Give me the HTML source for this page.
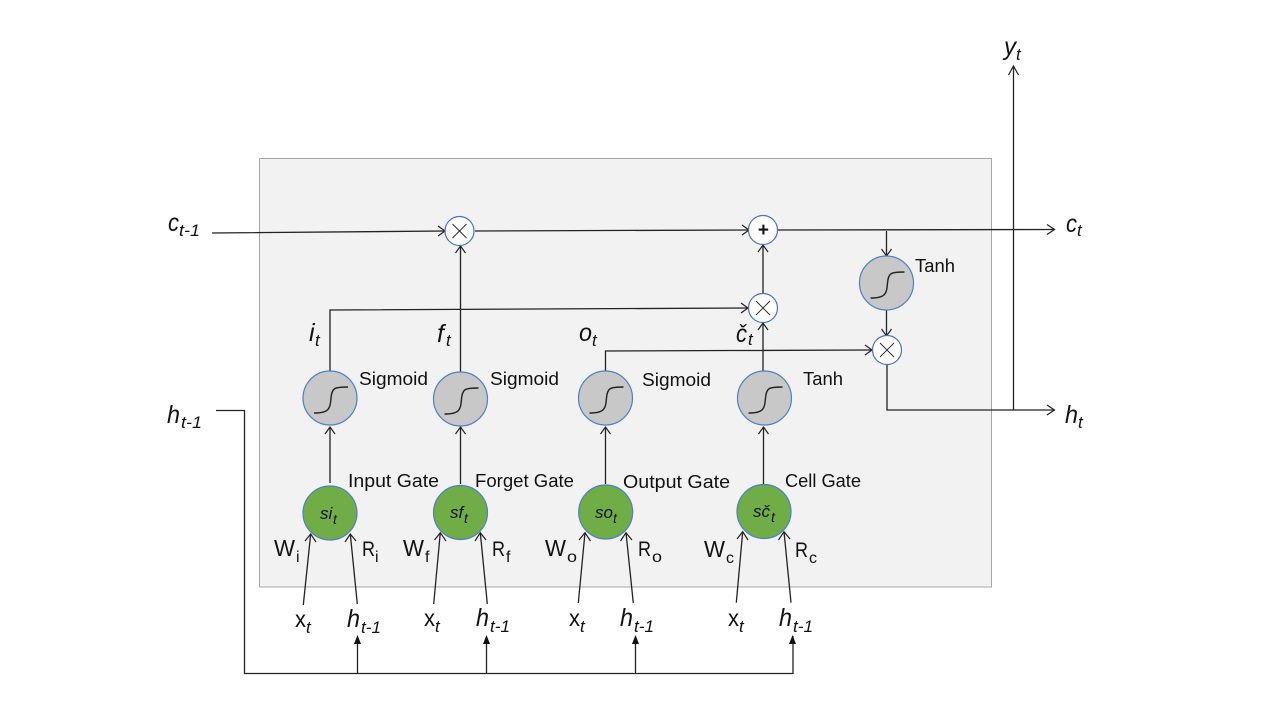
<!DOCTYPE html>
<html><head><meta charset="utf-8"><style>
html,body{margin:0;padding:0;background:#fff;width:1280px;height:720px;overflow:hidden}
svg{display:block}
text{font-family:"Liberation Sans",sans-serif;fill:#111}
.l{font-size:18px}
.m{font-size:25px;font-style:italic}
.s{font-size:17px;font-style:italic}
.n{font-size:23px}
.r{font-size:16px}
.g{font-size:17px;font-style:italic}
.gs{font-size:14px;font-style:italic}
.ln{fill:none;stroke:#222;stroke-width:1.3}
.ar{fill:none;stroke:#222;stroke-width:1.2}
.gray{fill:#c8c8c8;stroke:#4f7fc8;stroke-width:1.2}
.green{fill:#70ad47;stroke:#4f7fc8;stroke-width:1.2}
.w{fill:#fff;stroke:#4472c4;stroke-width:1.2}
.x{stroke:#222;stroke-width:.9}
.sc{fill:none;stroke:#222;stroke-width:1.4}
</style></head><body>
<svg width="1280" height="720" viewBox="0 0 1280 720" xmlns="http://www.w3.org/2000/svg">
<rect x="259.5" y="158.5" width="732" height="428.5" fill="#f2f2f2" stroke="#a6a6a6" stroke-width="1"/>

<!-- main lines -->
<path class="ln" d="M212 233L445 231M475 231L749 230M778 230L1054 229.5"/>
<path class="ln" d="M330 371V310L748 308M460.5 372V246M605.5 371V351L872 350M763 371V323M763 294V245"/>
<path class="ln" d="M886.5 231V256M886.5 310V336M887 365V410H1054M1013.5 410V66"/>
<path class="ln" d="M216 410.5H244.5V673.5H793V636M357.5 673.5V640M486.5 673.5V640M635.5 673.5V640"/>
<path class="ln" d="M330 483V427M460.5 484V427M605.5 484V427M763.5 484V427"/>

<!-- open arrowheads -->
<path class="ar" d="M438 226L445 231L438 236M742 225L749 230L742 235M1047 224.500L1054.500 229.500L1047 234.500"/>
<path class="ar" d="M741 303L748 308L741 313M865 345L872 350L865 355M1047 405L1054.500 410L1047 415"/>
<path class="ar" d="M455.500 253L460.500 246L465.500 253M758 252L763 245L768 252M758 330L763 323L768 330"/>
<path class="ar" d="M881.500 249L886.500 256L891.500 249M881.500 329L886.500 336L891.500 329M1008.500 75L1013.500 66L1018.500 75"/>
<path class="ar" d="M325 434L330 427L335 434M455.500 434L460.500 427L465.500 434M600.500 434L605.500 427L610.500 434M758.500 434L763.500 427L768.500 434"/>

<!-- inputs -->
<path class="ln" stroke-width="1" d="M303.300 605L310.700 534M357.300 604L350.300 534M433.700 604L440.300 532.700M487.300 604L480.300 532.700M578.300 603L585 532.700M633.300 603L626 532.700M736.300 602.700L742.700 531.700M791 602.700L784 531.700"/>
<path class="ar" d="M305 541L310.700 534L316 542M345 542L350.300 534L356 541M434.500 540L440.300 532.700L446 541M475 541L480.300 532.700L486 540M579 540L585 532.700L590.500 541M620.500 541L626 532.700L632 540M737 539L742.700 531.700L748 540M778.500 540L784 531.700L790 539"/>

<!-- filled arrowheads -->
<path fill="#111" d="M357.500 635L354 644H361ZM486.500 635L483 644H490ZM635.500 635L632 644H639ZM792.500 635L789 644H796Z"/>

<!-- gray circles -->
<g class="gray">
<circle cx="330" cy="398" r="27"/><circle cx="460.500" cy="399" r="27"/><circle cx="605.500" cy="398" r="27"/><circle cx="764.500" cy="398" r="27"/><circle cx="886.500" cy="283" r="27"/>
</g>
<g class="sc">
<path d="M314 413C330 413 330 408 331 398C332 388 334 387 348 387"/>
<path d="M444.500 414C460.500 414 460.500 409 461.500 399C462.500 389 464.500 388 478.500 388"/>
<path d="M589.500 413C605.500 413 605.500 408 606.500 398C607.500 388 609.500 387 623.500 387"/>
<path d="M748.500 413C764.500 413 764.500 408 765.500 398C766.500 388 768.500 387 782.500 387"/>
<path d="M870.500 298C886.500 298 886.500 293 887.500 283C888.500 273 890.500 272 904.500 272"/>
</g>

<!-- green circles -->
<g class="green">
<circle cx="330" cy="513" r="27"/><circle cx="460.500" cy="512.500" r="27"/><circle cx="605.700" cy="512" r="27"/><circle cx="764" cy="511.500" r="27"/>
</g>

<!-- op circles -->
<g class="w">
<circle cx="459.500" cy="231" r="14.500"/><circle cx="763" cy="230" r="14.500"/><circle cx="763" cy="308" r="14.500"/><circle cx="887" cy="350" r="14.500"/>
</g>
<path class="x" d="M452.500 224L466.500 238M466.500 224L452.500 238M756 301L770 315M770 301L756 315M880 343L894 357M894 343L880 357"/>
<text x="763" y="236" text-anchor="middle" style="font-size:19px;font-style:italic;font-weight:bold">+</text>

<!-- function labels -->
<text class="l" x="359" y="385" textLength="69" lengthAdjust="spacingAndGlyphs">Sigmoid</text>
<text class="l" x="490" y="385" textLength="69" lengthAdjust="spacingAndGlyphs">Sigmoid</text>
<text class="l" x="642" y="386" textLength="69" lengthAdjust="spacingAndGlyphs">Sigmoid</text>
<text class="l" x="803" y="385" textLength="40" lengthAdjust="spacingAndGlyphs">Tanh</text>
<text class="l" x="915" y="272" textLength="40" lengthAdjust="spacingAndGlyphs">Tanh</text>

<text class="l" x="348" y="487" textLength="91" lengthAdjust="spacingAndGlyphs">Input Gate</text>
<text class="l" x="475" y="487" textLength="99" lengthAdjust="spacingAndGlyphs">Forget Gate</text>
<text class="l" x="623" y="488" textLength="107" lengthAdjust="spacingAndGlyphs">Output Gate</text>
<text class="l" x="785" y="487" textLength="76" lengthAdjust="spacingAndGlyphs">Cell Gate</text>

<!-- green labels -->
<text class="g" x="320" y="519">si</text><text class="gs" x="333" y="524">t</text>
<text class="g" x="450" y="518">sf</text><text class="gs" x="464" y="523">t</text>
<text class="g" x="595" y="518">so</text><text class="gs" x="613" y="523">t</text>
<text class="g" x="753" y="517">sč</text><text class="gs" x="771" y="522">t</text>

<!-- state labels -->
<text class="m" x="168" y="231" textLength="11" lengthAdjust="spacingAndGlyphs">c</text><text class="s" x="179" y="236" textLength="21" lengthAdjust="spacingAndGlyphs">t-1</text>
<text class="m" x="167" y="423" textLength="13" lengthAdjust="spacingAndGlyphs">h</text><text class="s" x="181" y="428" textLength="21" lengthAdjust="spacingAndGlyphs">t-1</text>
<text class="m" x="309" y="341">i</text><text class="s" x="315" y="346">t</text>
<text class="m" x="437" y="342">f</text><text class="s" x="446" y="346">t</text>
<text class="m" x="579" y="341" textLength="13" lengthAdjust="spacingAndGlyphs">o</text><text class="s" x="592" y="346">t</text>
<text class="m" x="736" y="342" textLength="11" lengthAdjust="spacingAndGlyphs">č</text><text class="s" x="748" y="345">t</text>
<text class="m" x="1066" y="232" textLength="11" lengthAdjust="spacingAndGlyphs">c</text><text class="s" x="1077" y="236">t</text>
<text class="m" x="1065" y="423" textLength="13" lengthAdjust="spacingAndGlyphs">h</text><text class="s" x="1078" y="428">t</text>
<text class="m" x="1004" y="55" textLength="12" lengthAdjust="spacingAndGlyphs">y</text><text class="s" x="1016" y="60">t</text>

<!-- W / R labels -->
<text class="n" x="274" y="556" textLength="21" lengthAdjust="spacingAndGlyphs">W</text><text class="r" x="296" y="562">i</text>
<text class="n" x="362" y="556" style="font-size:21px" textLength="13" lengthAdjust="spacingAndGlyphs">R</text><text class="r" x="375" y="562">i</text>
<text class="n" x="403" y="556" textLength="21" lengthAdjust="spacingAndGlyphs">W</text><text class="r" x="425" y="562">f</text>
<text class="n" x="492" y="556" style="font-size:21px" textLength="13" lengthAdjust="spacingAndGlyphs">R</text><text class="r" x="506" y="562">f</text>
<text class="n" x="545" y="556" textLength="21" lengthAdjust="spacingAndGlyphs">W</text><text class="r" x="567" y="562" textLength="10" lengthAdjust="spacingAndGlyphs">o</text>
<text class="n" x="638" y="556" style="font-size:21px" textLength="13" lengthAdjust="spacingAndGlyphs">R</text><text class="r" x="652" y="562" textLength="10" lengthAdjust="spacingAndGlyphs">o</text>
<text class="n" x="704" y="557" textLength="21" lengthAdjust="spacingAndGlyphs">W</text><text class="r" x="726" y="563" textLength="8" lengthAdjust="spacingAndGlyphs">c</text>
<text class="n" x="795" y="557" style="font-size:21px" textLength="13" lengthAdjust="spacingAndGlyphs">R</text><text class="r" x="809" y="563" textLength="8" lengthAdjust="spacingAndGlyphs">c</text>

<!-- input labels -->
<text class="n" x="295" y="627" textLength="11" lengthAdjust="spacingAndGlyphs">x</text><text class="s" x="306" y="633">t</text>
<text class="m" x="347" y="627" textLength="13" lengthAdjust="spacingAndGlyphs">h</text><text class="s" x="361" y="633" textLength="20" lengthAdjust="spacingAndGlyphs">t-1</text>
<text class="n" x="424" y="626" textLength="11" lengthAdjust="spacingAndGlyphs">x</text><text class="s" x="435" y="632">t</text>
<text class="m" x="476" y="626" textLength="13" lengthAdjust="spacingAndGlyphs">h</text><text class="s" x="490" y="632" textLength="20" lengthAdjust="spacingAndGlyphs">t-1</text>
<text class="n" x="569" y="626" textLength="11" lengthAdjust="spacingAndGlyphs">x</text><text class="s" x="580" y="632">t</text>
<text class="m" x="620" y="626" textLength="13" lengthAdjust="spacingAndGlyphs">h</text><text class="s" x="634" y="632" textLength="20" lengthAdjust="spacingAndGlyphs">t-1</text>
<text class="n" x="728" y="626" textLength="11" lengthAdjust="spacingAndGlyphs">x</text><text class="s" x="739" y="632">t</text>
<text class="m" x="779" y="626" textLength="13" lengthAdjust="spacingAndGlyphs">h</text><text class="s" x="793" y="632" textLength="20" lengthAdjust="spacingAndGlyphs">t-1</text>
</svg>
</body></html>
